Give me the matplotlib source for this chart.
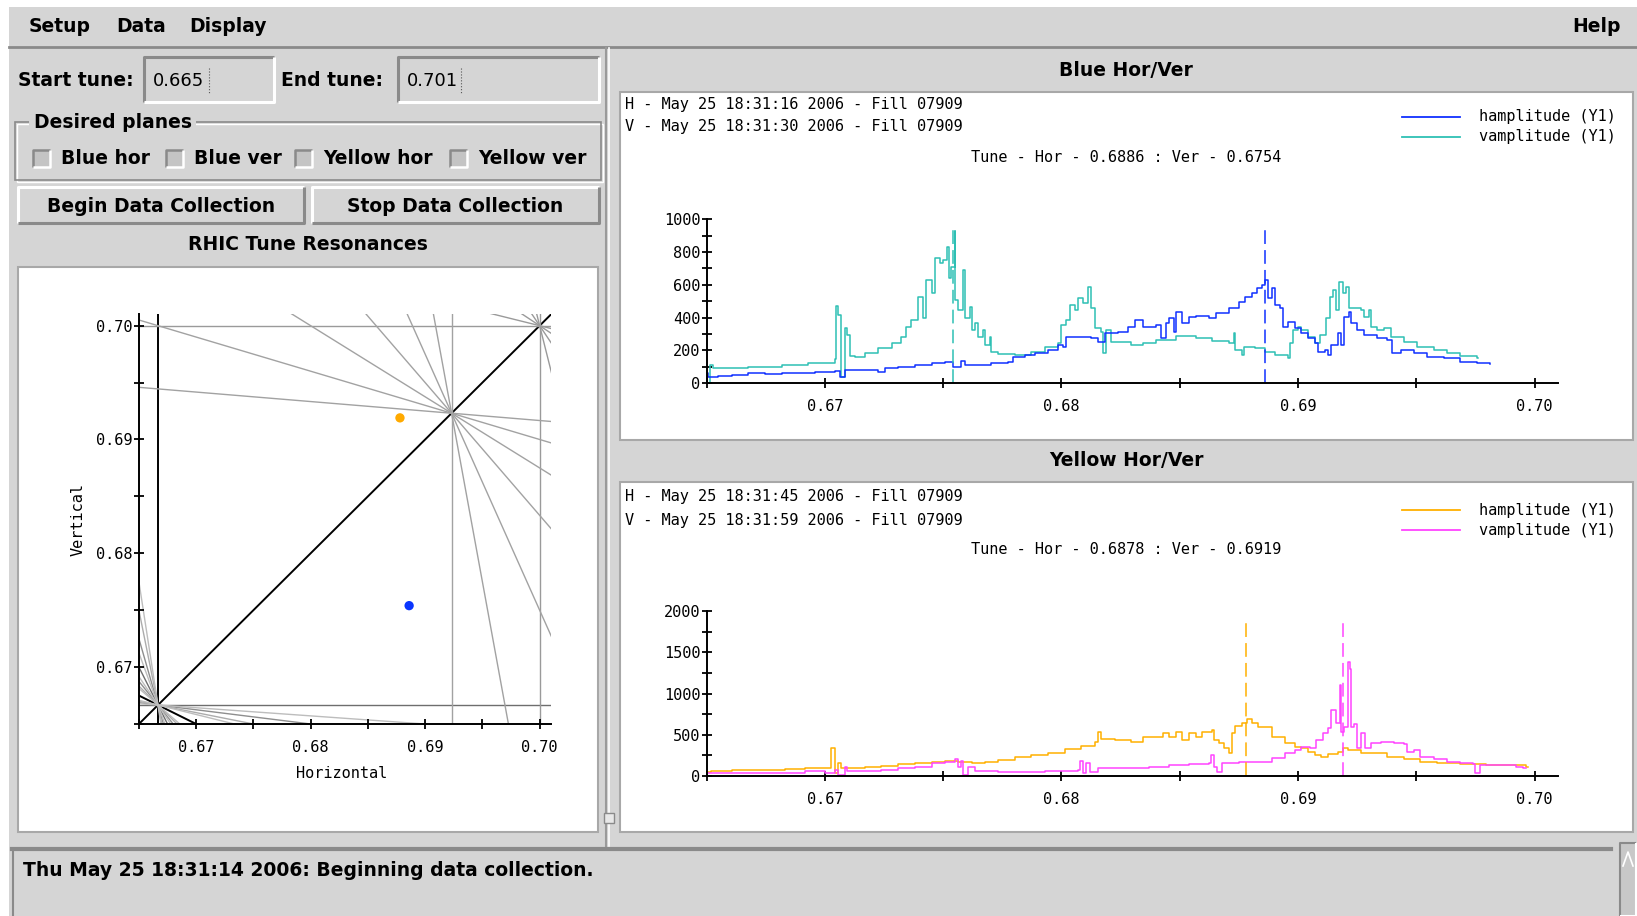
import numpy as np
import matplotlib
matplotlib.use("Agg")
import matplotlib.pyplot as plt
from matplotlib.patches import Rectangle
from matplotlib.ticker import MultipleLocator, FormatStrFormatter

# =====================================================
# DATOS
# =====================================================

tune_min = 0.665
tune_max = 0.701

# sintonias medidas (punto en el diagrama de resonancias)
blue_tune_h = 0.6886
blue_tune_v = 0.6754
yellow_tune_h = 0.6878
yellow_tune_v = 0.6919

# resonancias m*Qx + n*Qy = p
res_m = [1, 3, 1, 4, 0, 7, 5, 1, 10, 6, 2, 13, 11, 9, 7, 3, 1,
         10, 8, 6, 4, 2, 0, 13, 11, 9, 7, 5, 3, 1]
res_n = [-1, 0, 2, 2, 6, 2, 4, 8, 2, 6, 10, 2, 4, 6, 8, 12, 14,
         0, 2, 4, 6, 8, 10, 0, 2, 4, 6, 8, 10, 12]
res_p = [0, 2, 2, 4, 4, 6, 6, 6, 8, 8, 8, 10, 10, 10, 10, 10, 10,
         7, 7, 7, 7, 7, 7, 9, 9, 9, 9, 9, 9, 9]

# Blue - hamplitude
blue_h_q = [0.66500, 0.66507, 0.66549, 0.66606, 0.66676, 0.66747, 0.66817,
            0.66887, 0.66958, 0.67000, 0.67042, 0.67063, 0.67084, 0.67169,
            0.67225, 0.67253, 0.67310, 0.67380, 0.67451, 0.67507, 0.67542,
            0.67577, 0.67591, 0.67662, 0.67704, 0.67774, 0.67796, 0.67845,
            0.67887, 0.67943, 0.67986, 0.68007, 0.68021, 0.68070, 0.68126,
            0.68155, 0.68183, 0.68239, 0.68281, 0.68309, 0.68344, 0.68372,
            0.68399, 0.68420, 0.68441, 0.68455, 0.68476, 0.68483, 0.68511,
            0.68539, 0.68567, 0.68623, 0.68651, 0.68707, 0.68749, 0.68777,
            0.68804, 0.68825, 0.68846, 0.68860, 0.68874, 0.68891, 0.68902,
            0.68923, 0.68937, 0.68958, 0.68986, 0.69014, 0.69042, 0.69070,
            0.69084, 0.69112, 0.69126, 0.69140, 0.69168, 0.69182, 0.69196,
            0.69216, 0.69223, 0.69251, 0.69279, 0.69335, 0.69377, 0.69398,
            0.69433, 0.69489, 0.69545, 0.69615, 0.69684, 0.69754, 0.69810]
blue_h_a = [61, 41, 45, 51, 61, 55, 61,
            65, 67, 71, 75, 41, 81, 81,
            71, 91, 102, 112, 122, 132, 102,
            138, 112, 112, 126, 132, 163, 173,
            183, 203, 234, 224, 285, 285, 274,
            254, 305, 315, 346, 386, 346, 346,
            356, 274, 366, 396, 315, 437, 366,
            406, 411, 396, 427, 457, 498, 528,
            549, 579, 600, 630, 518, 579, 478,
            457, 346, 376, 335, 305, 274, 244,
            193, 203, 173, 234, 305, 234, 406,
            437, 366, 325, 295, 274, 264, 183,
            203, 183, 163, 152, 132, 122, 118]

# Blue - vamplitude
blue_v_q = [0.66500, 0.66514, 0.66528, 0.66676, 0.66817, 0.66930, 0.67042,
            0.67049, 0.67056, 0.67068, 0.67084, 0.67094, 0.67106, 0.67127,
            0.67169, 0.67225, 0.67282, 0.67324, 0.67345, 0.67366, 0.67394,
            0.67415, 0.67429, 0.67451, 0.67467, 0.67486, 0.67500, 0.67518,
            0.67524, 0.67535, 0.67549, 0.67552, 0.67563, 0.67584, 0.67591,
            0.67612, 0.67620, 0.67634, 0.67648, 0.67669, 0.67676, 0.67697,
            0.67704, 0.67732, 0.67803, 0.67873, 0.67929, 0.67986, 0.68000,
            0.68021, 0.68035, 0.68056, 0.68070, 0.68091, 0.68112, 0.68124,
            0.68140, 0.68169, 0.68176, 0.68190, 0.68211, 0.68239, 0.68295,
            0.68344, 0.68399, 0.68483, 0.68567, 0.68637, 0.68707, 0.68728,
            0.68735, 0.68763, 0.68770, 0.68818, 0.68860, 0.68902, 0.68958,
            0.68965, 0.68979, 0.69000, 0.69014, 0.69042, 0.69070, 0.69091,
            0.69119, 0.69133, 0.69147, 0.69161, 0.69172, 0.69189, 0.69202,
            0.69216, 0.69265, 0.69279, 0.69300, 0.69307, 0.69335, 0.69363,
            0.69391, 0.69447, 0.69503, 0.69573, 0.69628, 0.69684, 0.69754,
            0.69761]
blue_v_a = [0, 112, 91, 98, 112, 126, 148,
            474, 417, 40, 335, 295, 169, 163,
            183, 213, 244, 285, 345, 386, 528,
            396, 630, 549, 762, 732, 752, 833,
            640, 711, 931, 508, 447, 691, 396,
            467, 325, 366, 285, 325, 234, 285,
            193, 179, 173, 193, 224, 244, 356,
            386, 478, 447, 518, 488, 585, 457,
            335, 315, 183, 325, 254, 254, 234,
            244, 264, 289, 274, 258, 244, 305,
            203, 173, 224, 213, 193, 173, 152,
            244, 325, 346, 325, 285, 244, 295,
            396, 528, 569, 447, 620, 549, 585,
            457, 447, 406, 447, 346, 325, 335,
            285, 254, 224, 203, 187, 169, 152,
            152]

# Yellow - hamplitude
yel_h_q = [0.66500, 0.66521, 0.66606, 0.66831, 0.66916, 0.67021, 0.67028,
           0.67042, 0.67045, 0.67056, 0.67070, 0.67169, 0.67239, 0.67310,
           0.67380, 0.67451, 0.67507, 0.67563, 0.67620, 0.67676, 0.67732,
           0.67803, 0.67873, 0.67943, 0.68014, 0.68084, 0.68140, 0.68155,
           0.68169, 0.68225, 0.68295, 0.68344, 0.68399, 0.68427, 0.68455,
           0.68483, 0.68511, 0.68539, 0.68567, 0.68595, 0.68637, 0.68644,
           0.68665, 0.68686, 0.68707, 0.68721, 0.68735, 0.68763, 0.68784,
           0.68804, 0.68832, 0.68874, 0.68888, 0.68916, 0.68944, 0.68986,
           0.69014, 0.69042, 0.69070, 0.69098, 0.69126, 0.69168, 0.69189,
           0.69209, 0.69265, 0.69321, 0.69377, 0.69447, 0.69517, 0.69587,
           0.69684, 0.69796, 0.69880, 0.69964, 0.69971]
yel_h_a = [53, 65, 73, 81, 93, 101, 335,
           315, 32, 154, 93, 113, 125, 141,
           154, 174, 186, 174, 162, 174, 194,
           226, 255, 283, 323, 368, 416, 537,
           444, 436, 416, 469, 477, 525, 477,
           537, 436, 517, 477, 537, 557, 436,
           396, 335, 283, 517, 606, 638, 687,
           646, 598, 598, 477, 477, 404, 356,
           335, 295, 255, 234, 267, 295, 335,
           315, 275, 275, 226, 202, 174, 154,
           145, 133, 133, 113, 113]

# Yellow - vamplitude
yel_v_q = [0.66500, 0.66606, 0.66887, 0.66916, 0.67000, 0.67042, 0.67056,
           0.67084, 0.67092, 0.67239, 0.67310, 0.67380, 0.67451, 0.67507,
           0.67549, 0.67563, 0.67577, 0.67584, 0.67605, 0.67634, 0.67732,
           0.67929, 0.68070, 0.68077, 0.68091, 0.68105, 0.68119, 0.68155,
           0.68295, 0.68372, 0.68455, 0.68539, 0.68623, 0.68630, 0.68644,
           0.68658, 0.68679, 0.68749, 0.68846, 0.68888, 0.68944, 0.68986,
           0.69014, 0.69049, 0.69077, 0.69105, 0.69126, 0.69140, 0.69161,
           0.69175, 0.69182, 0.69193, 0.69209, 0.69219, 0.69223, 0.69237,
           0.69251, 0.69265, 0.69282, 0.69307, 0.69349, 0.69405, 0.69447,
           0.69461, 0.69489, 0.69517, 0.69573, 0.69628, 0.69684, 0.69740,
           0.69747, 0.69768, 0.69824, 0.69922, 0.69950, 0.69964]
yel_v_a = [32, 40, 40, 65, 40, 73, 12,
           113, 65, 73, 93, 113, 162, 174,
           202, 113, 186, 12, 113, 65, 53,
           65, 73, 186, 32, 154, 53, 93,
           101, 105, 133, 145, 154, 255, 113,
           53, 162, 166, 174, 214, 275, 315,
           356, 335, 436, 517, 578, 800, 642,
           1103, 538, 600, 1386, 1300, 598, 630,
           335, 517, 335, 396, 416, 404, 388,
           295, 315, 234, 202, 174, 154, 141,
           40, 133, 133, 113, 93, 100]

# altura de las marcas discontinuas de sintonia
blue_mark_top = 933
yellow_mark_top = 1866

# =====================================================
# ESTILO
# =====================================================

W, H = 1637, 916
BG = "#d5d5d5"
GUI_FONT = "DejaVu Sans"
PLOT_FONT = "DejaVu Sans Mono"

C_BLUE = "#1030ff"
C_CYAN = "#2ec0b4"
C_ORANGE = "#ffb000"
C_MAGENTA = "#ff44ff"

fig = plt.figure(figsize=(W / 100, H / 100), dpi=100)
fig.patch.set_facecolor(BG)

gui = fig.add_axes([0, 0, 1, 1])
gui.set_xlim(0, W)
gui.set_ylim(H, 0)
gui.axis("off")


def box(x0, y0, x1, y1):
    return [x0 / W, 1 - y1 / H, (x1 - x0) / W, (y1 - y0) / H]


def rect(x0, y0, x1, y1, face, edge="none", lw=0, z=1):
    gui.add_patch(Rectangle((x0, y0), x1 - x0, y1 - y0,
                            facecolor=face, edgecolor=edge, lw=lw, zorder=z))


def bevel(x0, y0, x1, y1, raised=True, lw=1.6, face=None):
    light, dark = ("white", "#8a8a8a") if raised else ("#8a8a8a", "white")
    if face is not None:
        rect(x0, y0, x1, y1, face)
    gui.plot([x0, x0, x1], [y1, y0, y0], color=light, lw=lw, zorder=2,
             solid_capstyle="butt")
    gui.plot([x0, x1, x1], [y1, y1, y0], color=dark, lw=lw, zorder=2,
             solid_capstyle="butt")


def gtext(x, y, s, ha="left", size=13.5, weight="bold", family=GUI_FONT):
    gui.text(x, y, s, ha=ha, va="center", fontsize=size,
             fontweight=weight, family=family, color="black", zorder=5)


# =====================================================
# MARCO DE LA VENTANA
# =====================================================

rect(0, 0, W, 7, "white")
rect(0, 0, 9, H, "white")
gui.plot([9, W], [47, 47], color="#8a8a8a", lw=2, zorder=2)

gtext(29, 27, "Setup")
gtext(116, 27, "Data")
gtext(189, 27, "Display")
gtext(1621, 27, "Help", ha="right")

# separador izquierda / derecha
gui.plot([606, 606], [48, 846], color="#9a9a9a", lw=1.5, zorder=2)
gui.plot([609, 609], [48, 846], color="white", lw=1.2, zorder=2)
rect(604, 813, 614, 823, "#e8e8e8", "#8a8a8a", 1, z=3)

# =====================================================
# PANEL IZQUIERDO: CONTROLES
# =====================================================

gtext(18, 80, "Start tune:")
bevel(144, 57, 274, 102, raised=False, lw=2.2)
gtext(153, 81, "0.665", weight="normal", size=13)
gui.plot([209, 209], [68, 93], color="#555555", lw=0.8, ls=":", zorder=5)

gtext(281, 80, "End tune:")
bevel(398, 57, 599, 102, raised=False, lw=2.2)
gtext(407, 81, "0.701", weight="normal", size=13)
gui.plot([461, 461], [68, 93], color="#555555", lw=0.8, ls=":", zorder=5)

# marco "Desired planes"
gui.add_patch(Rectangle((15, 122), 586, 58, facecolor="none",
                        edgecolor="#8a8a8a", lw=1.2, zorder=2))
gui.add_patch(Rectangle((16.5, 123.5), 586, 58, facecolor="none",
                        edgecolor="white", lw=1.0, zorder=1.9))
rect(29, 110, 196, 134, BG, z=3)
gtext(34, 122, "Desired planes")

check_x = [33, 166, 295, 450]
check_lbl = ["Blue hor", "Blue ver", "Yellow hor", "Yellow ver"]
for cx, lbl in zip(check_x, check_lbl):
    bevel(cx, 150, cx + 17, 167, raised=False, lw=1.8, face="#c4c4c4")
    gtext(cx + 28, 159, lbl)

bevel(18, 187, 304, 223, raised=True, lw=2.2)
gtext(161, 206, "Begin Data Collection", ha="center")
bevel(312, 187, 599, 223, raised=True, lw=2.2)
gtext(455, 206, "Stop Data Collection", ha="center")

gtext(308, 245, "RHIC Tune Resonances", ha="center")

# =====================================================
# PANELES BLANCOS
# =====================================================

rect(18, 267, 598, 832, "white", "#a8a8a8", 1.5)
gtext(1126, 70, "Blue Hor/Ver", ha="center")
rect(620, 92, 1633, 440, "white", "#a8a8a8", 1.5)
gtext(1126, 461, "Yellow Hor/Ver", ha="center")
rect(620, 482, 1633, 832, "white", "#a8a8a8", 1.5)

# barra de estado
rect(12, 848, 1611, H, BG)
gui.plot([12, 1611], [849, 849], color="#8a8a8a", lw=3, zorder=2)
gui.plot([13, 13], [849, H], color="#8a8a8a", lw=1.5, zorder=2)
gtext(23, 870, "Thu May 25 18:31:14 2006: Beginning data collection.")
bevel(1620, 843, 1636, H, raised=False, lw=1.5, face="#c8c8c8")
gui.plot([1623, 1628, 1633], [866, 852, 866], color="white", lw=1.2,
         zorder=4)

# =====================================================
# DIAGRAMA DE RESONANCIAS
# =====================================================

ax_r = fig.add_axes(box(138.9, 314.3, 551.1, 724.0))
ax_r.set_facecolor("none")
ax_r.set_xlim(tune_min, tune_max)
ax_r.set_ylim(tune_min, tune_max)

order_color = {2: "black", 3: "black", 6: "#6e6e6e", 9: "#8e8e8e",
               10: "#9a9a9a", 12: "#acacac", 13: "#a2a2a2", 15: "#bdbdbd"}

xs = np.array([0.66, 0.71])
for m, n, p in zip(res_m, res_n, res_p):
    order = abs(m) + abs(n)
    col = order_color[order]
    lw = 1.4 if order <= 3 else 1.0
    if n == 0:
        ax_r.axvline(p / m, color=col, lw=lw, zorder=1)
    elif m == 0:
        ax_r.axhline(p / n, color=col, lw=lw, zorder=1)
    else:
        ax_r.plot(xs, (p - m * xs) / n, color=col, lw=lw, zorder=1)

ax_r.scatter([yellow_tune_h], [yellow_tune_v], s=45, color="#ffaa00",
             zorder=5, edgecolors="none")
ax_r.scatter([blue_tune_h], [blue_tune_v], s=45, color="#0a36ff",
             zorder=5, edgecolors="none")

ax_r.xaxis.set_major_locator(MultipleLocator(0.01))
ax_r.xaxis.set_minor_locator(MultipleLocator(0.005))
ax_r.yaxis.set_major_locator(MultipleLocator(0.01))
ax_r.yaxis.set_minor_locator(MultipleLocator(0.005))
ax_r.xaxis.set_major_formatter(FormatStrFormatter("%.2f"))
ax_r.yaxis.set_major_formatter(FormatStrFormatter("%.2f"))

gtext(342, 773, "Horizontal", ha="center", size=11, weight="normal",
      family=PLOT_FONT)
gui.text(78, 519, "Vertical", ha="center", va="center", rotation=90,
         fontsize=11, family=PLOT_FONT, zorder=5)

# =====================================================
# GRAFICOS DE AMPLITUD
# =====================================================

ax_b = fig.add_axes(box(706.5, 219.3, 1558.4, 383.3))
ax_b.set_xlim(tune_min, tune_max)
ax_b.set_ylim(0, 1000)
ax_b.plot(blue_v_q, blue_v_a, drawstyle="steps-post", color=C_CYAN,
          lw=1.1)
ax_b.plot(blue_h_q, blue_h_a, drawstyle="steps-post", color=C_BLUE,
          lw=1.1)
ax_b.plot([blue_tune_h, blue_tune_h], [0, blue_mark_top], color=C_BLUE,
          lw=1.1, dashes=(9, 4))
ax_b.plot([blue_tune_v, blue_tune_v], [0, blue_mark_top], color=C_CYAN,
          lw=1.1, dashes=(9, 4))
ax_b.yaxis.set_major_locator(MultipleLocator(200))
ax_b.yaxis.set_minor_locator(MultipleLocator(100))

ax_y = fig.add_axes(box(706.5, 611.0, 1558.4, 776.0))
ax_y.set_xlim(tune_min, tune_max)
ax_y.set_ylim(0, 2000)
ax_y.plot(yel_h_q, yel_h_a, drawstyle="steps-post", color=C_ORANGE,
          lw=1.1)
ax_y.plot(yel_v_q, yel_v_a, drawstyle="steps-post", color=C_MAGENTA,
          lw=1.1)
ax_y.plot([yellow_tune_h, yellow_tune_h], [0, yellow_mark_top],
          color=C_ORANGE, lw=1.1, dashes=(9, 4))
ax_y.plot([yellow_tune_v, yellow_tune_v], [0, yellow_mark_top],
          color=C_MAGENTA, lw=1.1, dashes=(9, 4))
ax_y.yaxis.set_major_locator(MultipleLocator(500))
ax_y.yaxis.set_minor_locator(MultipleLocator(250))

for ax in (ax_b, ax_y):
    ax.set_facecolor("none")
    ax.xaxis.set_major_locator(MultipleLocator(0.01))
    ax.xaxis.set_minor_locator(MultipleLocator(0.005))
    ax.xaxis.set_major_formatter(FormatStrFormatter("%.2f"))
    ax.yaxis.set_major_formatter(FormatStrFormatter("%d"))

for ax in (ax_r, ax_b, ax_y):
    for side in ("top", "right"):
        ax.spines[side].set_visible(False)
    for side in ("left", "bottom"):
        ax.spines[side].set_linewidth(1.4)
    ax.tick_params(which="both", direction="inout", length=7, width=1.3,
                   labelsize=11)
    ax.tick_params(axis="x", which="major", pad=8)
    ax.tick_params(axis="y", which="major", pad=1)
    for lab in ax.get_xticklabels() + ax.get_yticklabels():
        lab.set_family(PLOT_FONT)

# =====================================================
# TEXTOS DE LOS GRAFICOS
# =====================================================

info_blue = ["H - May 25 18:31:16 2006 - Fill 07909",
             "V - May 25 18:31:30 2006 - Fill 07909"]
info_yellow = ["H - May 25 18:31:45 2006 - Fill 07909",
               "V - May 25 18:31:59 2006 - Fill 07909"]
tune_blue = "Tune - Hor - 0.6886 : Ver - 0.6754"
tune_yellow = "Tune - Hor - 0.6878 : Ver - 0.6919"
legend_labels = ["hamplitude (Y1)", "vamplitude (Y1)"]

for top, info, tune, cols in ((104, info_blue, tune_blue, (C_BLUE, C_CYAN)),
                              (497, info_yellow, tune_yellow,
                               (C_ORANGE, C_MAGENTA))):
    gtext(625, top, info[0], size=11, weight="normal", family=PLOT_FONT)
    gtext(625, top + 23, info[1], size=11, weight="normal", family=PLOT_FONT)
    gtext(1126, top + 53, tune, ha="center", size=11, weight="normal",
          family=PLOT_FONT)
    for i, (lbl, col) in enumerate(zip(legend_labels, cols)):
        yy = top + 13 + 20 * i
        gui.plot([1402, 1460], [yy, yy], color=col, lw=1.3, zorder=5)
        gtext(1479, yy, lbl, size=11, weight="normal", family=PLOT_FONT)

fig.savefig("out.png", dpi=100, facecolor=BG)
